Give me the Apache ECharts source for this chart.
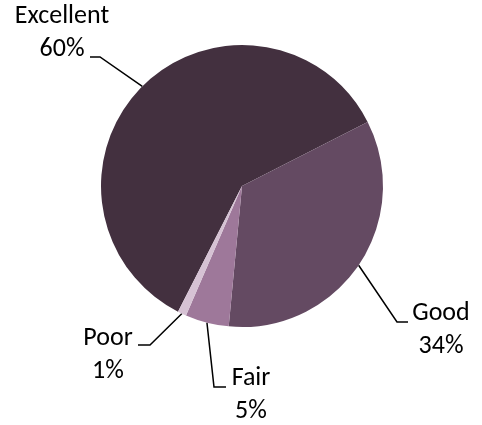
<!DOCTYPE html>
<html lang="en">
<head>
    <meta charset="UTF-8">
    <title>Pie</title>
    <script src="https://cdn.jsdelivr.net/npm/echarts@6/dist/echarts.min.js"></script>
</head>
<body style="margin:0;background:#fff;">
<div id="myChart" style="width: 482px;height: 425px;"></div>

<script>
    var categories = ['Excellent', 'Good', 'Fair', 'Poor'];
    var values = [60, 34, 5, 1];
    var colors = ['#43303f', '#644a62', '#9e789a', '#d6c2d4'];

    // where each label sits, and where its leader line bends / ends
    var labelPos = [
        {x: 62, y: 33, bend: [100, 57], end: [90, 57]},
        {x: 441, y: 330, bend: [397, 322], end: [408, 322]},
        {x: 251, y: 395, bend: [214, 387], end: [226, 387]},
        {x: 108, y: 355, bend: [150, 345], end: [138, 345]}
    ];

    var pieData = [];
    for (var i = 0; i < categories.length; i++) {
        pieData.push({name: categories[i], value: values[i], itemStyle: {color: colors[i]}});
    }

    var myChart = echarts.init(document.getElementById('myChart'));

    var option = {
        backgroundColor: '#fff',
        animation: false,
        series: [
            {
                type: 'pie',
                center: [242, 186],
                radius: 141,
                startAngle: 243,
                clockwise: true,
                avoidLabelOverlap: false,
                data: pieData,
                label: {
                    show: true,
                    formatter: '{b}\n{d}%',
                    fontFamily: 'Carlito, Calibri, "Liberation Sans", sans-serif',
                    fontSize: 26,
                    lineHeight: 33,
                    color: '#000',
                    align: 'center'
                },
                labelLine: {
                    show: true,
                    lineStyle: {color: '#000', width: 1.5}
                },
                labelLayout: function (params) {
                    var p = labelPos[params.dataIndex];
                    var start = params.labelLinePoints ? params.labelLinePoints[0] : p.bend;
                    return {
                        x: p.x,
                        y: p.y,
                        align: 'center',
                        verticalAlign: 'middle',
                        labelLinePoints: [start, p.bend, p.end]
                    };
                },
                emphasis: {scale: false}
            }
        ]
    };

    myChart.setOption(option);
</script>
</body>
</html>
